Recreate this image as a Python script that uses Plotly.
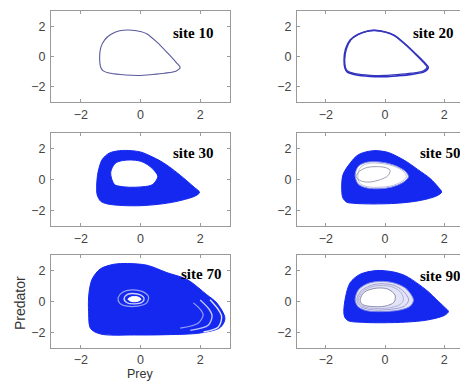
import plotly.graph_objects as go

# ---------------- data ----------------
site_labels = ["site 10", "site 20", "site 30", "site 50", "site 70", "site 90"]
tick_vals = [-2, 0, 2]

# site 10: single limit cycle
s10_x = [-1.37, -1.33, -1.2, -1.0, -0.7, -0.39, 0.0, 0.22, 0.56, 0.89, 1.2, 1.33, 1.2, 0.8, 0.3, 0.0, -0.5, -1.0, -1.25, -1.33, -1.37]
s10_y = [-0.07, 0.6, 1.1, 1.45, 1.7, 1.75, 1.65, 1.49, 0.93, 0.27, -0.4, -0.73, -0.95, -1.1, -1.2, -1.25, -1.22, -1.11, -0.95, -0.73, -0.07]

# site 20: thin band (two edges)
s20_x = [-1.36, -1.3, -1.15, -0.9, -0.6, -0.35, 0.0, 0.3, 0.65, 1.0, 1.3, 1.42, 1.3, 0.9, 0.4, 0.0, -0.5, -1.0, -1.25, -1.33, -1.36]
s20_y = [-0.2, 0.5, 1.1, 1.45, 1.67, 1.72, 1.62, 1.4, 0.85, 0.2, -0.4, -0.7, -0.95, -1.1, -1.2, -1.25, -1.24, -1.13, -0.98, -0.75, -0.2]
s20b_x = [-1.38, -1.33, -1.17, -0.92, -0.6, -0.35, 0.0, 0.3, 0.66, 1.02, 1.33, 1.46, 1.33, 0.9, 0.4, 0.0, -0.5, -1.0, -1.27, -1.35, -1.38]
s20b_y = [-0.2, 0.5, 1.1, 1.45, 1.67, 1.72, 1.62, 1.4, 0.85, 0.2, -0.4, -0.72, -1.0, -1.18, -1.28, -1.33, -1.31, -1.2, -1.03, -0.78, -0.2]

# site 30: band, outer and inner edge
s30_out_x = [-1.47, -1.42, -1.28, -1.05, -0.7, -0.3, 0.05, 0.35, 0.67, 1.05, 1.44, 1.8, 1.98, 1.85, 1.22, 0.6, 0.0, -0.6, -1.1, -1.33, -1.45, -1.47]
s30_out_y = [-0.43, 0.5, 1.3, 1.7, 1.86, 1.86, 1.75, 1.5, 1.19, 0.7, 0.1, -0.5, -0.83, -1.05, -1.41, -1.6, -1.69, -1.68, -1.58, -1.41, -1.0, -0.43]
s30_in_x = [-1.0, -0.85, -0.6, -0.33, 0.0, 0.22, 0.45, 0.58, 0.45, 0.33, 0.0, -0.33, -0.65, -0.87, -1.0]
s30_in_y = [0.43, 1.04, 1.22, 1.26, 1.18, 0.98, 0.6, 0.2, -0.25, -0.39, -0.48, -0.5, -0.45, -0.33, 0.43]

# site 50
s50_out_x = [-1.46, -1.42, -1.18, -0.9, -0.39, 0.1, 0.4, 0.73, 1.1, 1.52, 1.8, 1.91, 1.75, 1.2, 0.5, -0.06, -0.7, -1.15, -1.29, -1.42, -1.46]
s50_out_y = [-0.7, 0.3, 1.05, 1.6, 1.86, 1.75, 1.5, 1.15, 0.65, 0.07, -0.5, -0.81, -1.05, -1.35, -1.52, -1.57, -1.57, -1.52, -1.47, -1.2, -0.7]
s50_in_x = [-1.01, -0.9, -0.65, -0.39, 0.0, 0.4, 0.7, 0.79, 0.6, 0.2, -0.17, -0.6, -0.9, -1.01]
s50_in_y = [0.28, 0.85, 1.1, 1.15, 1.08, 0.85, 0.5, 0.17, -0.2, -0.5, -0.59, -0.55, -0.3, 0.28]
s50_g1_x = [-0.92, -0.82, -0.6, -0.39, 0.0, 0.38, 0.65, 0.72, 0.55, 0.2, -0.17, -0.58, -0.85, -0.92]
s50_g1_y = [0.28, 0.8, 1.02, 1.07, 1.0, 0.8, 0.47, 0.17, -0.15, -0.42, -0.5, -0.47, -0.25, 0.28]
s50_g2_x = [-0.98, -0.85, -0.6, -0.3, 0.0, 0.17, 0.1, -0.15, -0.5, -0.8, -0.98]
s50_g2_y = [0.17, 0.55, 0.78, 0.83, 0.78, 0.6, 0.25, 0.0, -0.16, -0.1, 0.17]

# site 70
s70_out_x = [-1.74, -1.73, -1.62, -1.35, -0.9, -0.44, 0.22, 0.89, 1.56, 2.22, 2.56, 2.83, 2.67, 2.0, 0.89, -0.2, -1.33, -1.67, -1.74]
s70_out_y = [-0.66, 0.5, 1.45, 2.1, 2.4, 2.45, 2.34, 1.86, 1.42, 0.44, -0.1, -1.09, -1.68, -2.03, -2.14, -2.16, -2.1, -1.75, -0.66]
s70_st1_x = [2.33, 2.6, 2.72, 2.61, 2.11]
s70_st1_y = [0.11, -0.5, -0.98, -1.64, -1.97]
s70_st2_x = [2.0, 2.3, 2.4, 2.27, 1.67]
s70_st2_y = [0.1, -0.5, -0.94, -1.53, -1.86]
s70_st3_x = [1.77, 2.0, 2.1, 1.93, 1.33]
s70_st3_y = [-0.09, -0.5, -0.87, -1.4, -1.72]
s70_sw1_x = [-0.75, -0.6, -0.3, 0.05, 0.27, 0.2, -0.1, -0.45, -0.7, -0.75]
s70_sw1_y = [0.25, 0.6, 0.75, 0.65, 0.3, -0.1, -0.3, -0.3, -0.1, 0.25]
s70_sw2_x = [-0.55, -0.45, -0.25, 0.0, 0.12, 0.05, -0.2, -0.45, -0.55]
s70_sw2_y = [0.2, 0.45, 0.52, 0.42, 0.2, -0.05, -0.15, -0.08, 0.2]
s70_core_x = [-0.42, -0.3, -0.1, 0.02, -0.08, -0.3, -0.42]
s70_core_y = [0.15, 0.3, 0.3, 0.15, 0.02, 0.0, 0.15]

# site 90
s90_out_x = [-1.39, -1.33, -1.18, -0.85, -0.28, 0.3, 0.7, 1.07, 1.45, 1.75, 2.0, 2.14, 2.0, 1.41, 0.7, -0.06, -0.7, -1.24, -1.36, -1.39]
s90_out_y = [-0.65, 0.3, 1.2, 1.75, 2.0, 1.9, 1.65, 1.2, 0.65, 0.1, -0.35, -0.65, -0.9, -1.2, -1.33, -1.37, -1.35, -1.24, -1.0, -0.65]
s90_in_x = [-1.01, -0.9, -0.6, -0.17, 0.3, 0.7, 0.96, 0.85, 0.5, -0.06, -0.6, -0.9, -1.01]
s90_in_y = [0.1, 0.75, 1.15, 1.3, 1.2, 0.85, 0.1, -0.3, -0.55, -0.65, -0.6, -0.35, 0.1]
s90_g1_x = [-0.95, -0.8, -0.45, -0.1, 0.35, 0.65, 0.8, 0.65, 0.2, -0.35, -0.8, -0.95]
s90_g1_y = [0.1, 0.7, 1.05, 1.15, 1.0, 0.6, 0.1, -0.3, -0.5, -0.55, -0.35, 0.1]
s90_g2_x = [-0.9, -0.75, -0.4, -0.05, 0.3, 0.55, 0.62, 0.5, 0.1, -0.35, -0.75, -0.9]
s90_g2_y = [0.1, 0.65, 0.97, 1.03, 0.9, 0.55, 0.1, -0.2, -0.42, -0.45, -0.3, 0.1]
s90_hole_x = [-0.84, -0.7, -0.3, 0.1, 0.34, 0.3, 0.0, -0.4, -0.75, -0.84]
s90_hole_y = [0.1, 0.6, 0.86, 0.8, 0.4, -0.05, -0.3, -0.33, -0.2, 0.1]

# ---------------- styling ----------------
OFF = 8                      # page body margin
W, H = 468 - OFF, 382 - OFF
BLUE = "rgb(20,40,240)"
LIGHT = "rgb(228,228,248)"
FRAME = "#9a9a9a"
TICKF = dict(family="Liberation Sans, Arial", size=12.5, color="#444")

def px_x(p):
    return (p - OFF) / W

def px_y(p):
    return 1 - (p - OFF) / H

col_dom = [(px_x(51), px_x(230)), (px_x(297), 1.0)]
col_rng = [[-3, 3], [-2.97, 2.8]]
row_px = [(11, 102), (133, 226), (255, 348)]

fig = go.Figure()

def ax(i):
    return ("x" if i == 1 else f"x{i}"), ("y" if i == 1 else f"y{i}")

def line(i, xs, ys, color, width=1.0, fill=None, fillcolor=None):
    xa, ya = ax(i)
    fig.add_trace(go.Scatter(x=xs, y=ys, mode="lines", line=dict(color=color, width=width, shape="spline", smoothing=0.9),
                             fill=fill, fillcolor=fillcolor, xaxis=xa, yaxis=ya, hoverinfo="skip", showlegend=False))

# panel 1
line(1, s10_x, s10_y, "#5a5a9c", 1.1)
# panel 2
line(2, s20b_x, s20b_y, "#2c2cc8", 1.6)
line(2, s20_x, s20_y, "#3838b8", 1.3)
# panel 3
line(3, s30_out_x, s30_out_y, BLUE, 1, "toself", BLUE)
line(3, s30_in_x, s30_in_y, BLUE, 1, "toself", "white")
# panel 4
line(4, s50_out_x, s50_out_y, BLUE, 1, "toself", BLUE)
line(4, s50_in_x, s50_in_y, "rgb(120,130,230)", 1, "toself", "white")
line(4, s50_g1_x, s50_g1_y, "rgb(190,190,225)", 1)
line(4, s50_g2_x, s50_g2_y, "rgb(160,160,175)", 1)
# panel 5
line(5, s70_out_x, s70_out_y, BLUE, 1, "toself", BLUE)
line(5, s70_st3_x, s70_st3_y, "rgb(150,160,245)", 1.2)
line(5, s70_st2_x, s70_st2_y, "rgb(190,195,250)", 1.4)
line(5, s70_st1_x, s70_st1_y, "rgb(225,228,255)", 1.4)
line(5, s70_sw1_x, s70_sw1_y, "rgb(150,160,240)", 1.2)
line(5, s70_sw2_x, s70_sw2_y, "rgb(205,210,250)", 1.4)
line(5, s70_core_x, s70_core_y, "white", 1, "toself", "white")
# panel 6
line(6, s90_out_x, s90_out_y, BLUE, 1, "toself", BLUE)
line(6, s90_in_x, s90_in_y, "rgb(120,130,230)", 1, "toself", LIGHT)
line(6, s90_g1_x, s90_g1_y, "rgb(160,160,210)", 1)
line(6, s90_g2_x, s90_g2_y, "rgb(175,175,215)", 1)
line(6, s90_hole_x, s90_hole_y, "rgb(140,140,170)", 1, "toself", "white")

layout = dict(width=W, height=H, margin=dict(l=0, r=0, t=0, b=0),
              paper_bgcolor="white", plot_bgcolor="white", showlegend=False)
annotations = []
lab_pos = [(0.916, 0.755), (0.924, 0.755), (0.916, 0.78), (0.963, 0.78), (0.959, 0.796), (0.963, 0.774)]
for i in range(1, 7):
    r = (i - 1) // 2
    c = (i - 1) % 2
    top, bot = row_px[r]
    xs = "xaxis" if i == 1 else f"xaxis{i}"
    ys = "yaxis" if i == 1 else f"yaxis{i}"
    xa, ya = ax(i)
    layout[xs] = dict(domain=list(col_dom[c]), range=col_rng[c], anchor=ya, tickvals=tick_vals,
                      showline=True, linecolor=FRAME, linewidth=1, mirror="ticks", ticks="inside",
                      ticklen=3, tickcolor=FRAME, showgrid=False, zeroline=False, tickfont=TICKF,
                      ticklabelstandoff=(0 if r == 2 else 1))
    layout[ys] = dict(domain=[px_y(bot), px_y(top)], range=[-3, 3], anchor=xa, tickvals=tick_vals,
                      showline=True, linecolor=FRAME, linewidth=1, mirror=("ticks" if c == 0 else False),
                      ticks="inside", ticklen=3, tickcolor=FRAME, showgrid=False, zeroline=False, tickfont=TICKF,
                      ticklabelstandoff=2)
    lx, ly = lab_pos[i - 1]
    annotations.append(dict(text=site_labels[i - 1], xref=f"{xa} domain", yref=f"{ya} domain", x=lx, y=ly,
                            xanchor="right", yanchor="middle", showarrow=False,
                            font=dict(family="Liberation Serif, Times New Roman", size=15, color="black", weight=700)))

annotations.append(dict(text="Predator", xref="paper", yref="paper", x=px_x(20), y=px_y(303), textangle=-90,
                        showarrow=False, xanchor="center", yanchor="middle",
                        font=dict(family="Liberation Sans, Arial", size=14, color="#333")))
annotations.append(dict(text="Prey", xref="paper", yref="paper", x=px_x(140), y=0.0,
                        showarrow=False, xanchor="center", yanchor="bottom", borderpad=0,
                        font=dict(family="Liberation Sans, Arial", size=12.5, color="#333")))
layout["annotations"] = annotations
fig.update_layout(**layout)
fig.write_html("out.html")
